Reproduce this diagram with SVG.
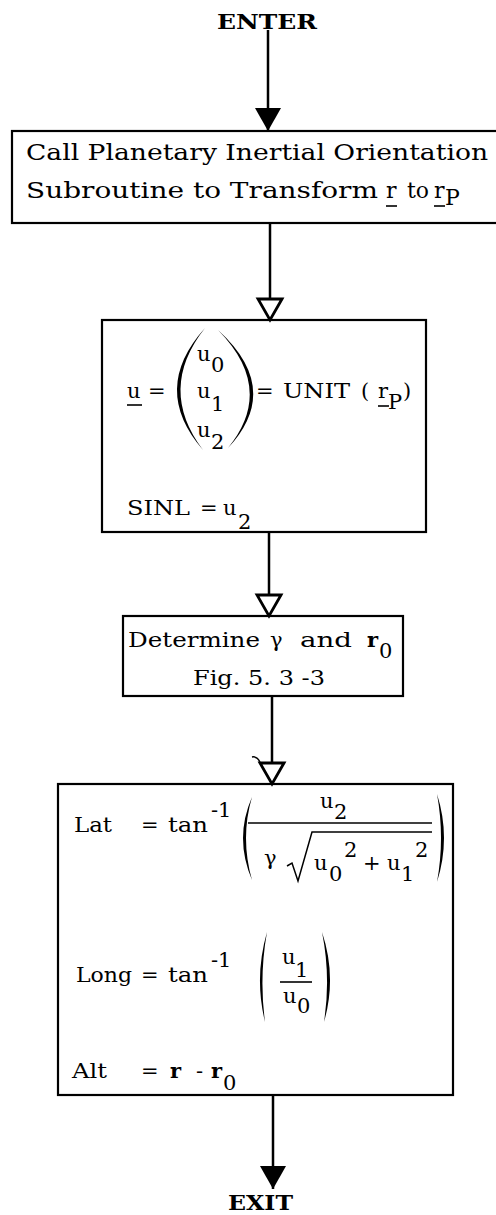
<svg xmlns="http://www.w3.org/2000/svg" width="496" height="1215" viewBox="0 0 496 1215">
<style>
text { font-family: "DejaVu Serif", "Liberation Serif", serif; fill: #000; }
.t { font-size: 21px; }
.b1 { font-size: 22px; }
.lbl { font-size: 20px; font-weight: bold; }
.bd { font-weight: bold; }
.box { fill: none; stroke: #000; stroke-width: 2.2; }
.ln { stroke: #000; stroke-width: 2.5; fill: none; }
.ul { stroke: #000; stroke-width: 1.6; }
.par { fill: #000; stroke: none; }
.thin { stroke: #000; stroke-width: 1.5; fill: none; }
</style>
<defs>
<marker id="solid" markerUnits="userSpaceOnUse" viewBox="0 -13 23 26" refX="23" refY="0" markerWidth="23" markerHeight="26" orient="auto">
<path d="M0,-13 L23,0 L0,13 Z" fill="#000"/>
</marker>
<marker id="hollow" markerUnits="userSpaceOnUse" viewBox="-2 -15 27 30" refX="22" refY="0" markerWidth="27" markerHeight="30" orient="auto">
<path d="M1,-12 L22,0 L1,12 Z" fill="#fff" stroke="#000" stroke-width="2.8" stroke-linejoin="miter"/>
</marker>
</defs>

<g id="enter">
<text class="lbl" x="217" y="29" textLength="100" lengthAdjust="spacingAndGlyphs">ENTER</text>
</g>

<g id="connectors">
<line class="ln" x1="268" y1="30" x2="268" y2="131" marker-end="url(#solid)"/>
<line class="ln" x1="270" y1="223" x2="270" y2="320" marker-end="url(#hollow)"/>
<line class="ln" x1="269" y1="532" x2="269" y2="616" marker-end="url(#hollow)"/>
<line class="ln" x1="272" y1="696" x2="272" y2="784" marker-end="url(#hollow)"/>
<path class="thin" d="M252,757 Q257,756 260,762"/>
<line class="ln" x1="273" y1="1095" x2="273" y2="1189" marker-end="url(#solid)"/>
</g>

<g id="box1">
<rect class="box" x="12" y="131" width="495" height="92"/>
<text class="b1" x="26" y="160" textLength="462" lengthAdjust="spacingAndGlyphs">Call Planetary Inertial Orientation</text>
<text class="b1" x="26" y="198" textLength="352" lengthAdjust="spacingAndGlyphs">Subroutine to Transform</text>
<text class="b1" x="386" y="198">r</text>
<line class="ul" x1="386" y1="206" x2="397" y2="206"/>
<text class="b1" x="407" y="198" textLength="22" lengthAdjust="spacingAndGlyphs">to</text>
<text class="b1" x="434" y="198">r</text>
<line class="ul" x1="434" y1="206" x2="445" y2="206"/>
<text class="b1" x="445" y="205">P</text>
</g>

<g id="box2">
<rect class="box" x="102" y="320" width="324" height="212"/>
<text class="t" x="127" y="398">u</text>
<line class="ul" x1="127" y1="405" x2="142" y2="405"/>
<text class="t" x="148" y="398">=</text>
<path class="par" d="M205,328 Q150,389 203,450 Q157,389 205,328 Z"/>
<path class="par" d="M218,330 Q283,389 228,448 Q276,389 218,330 Z"/>
<text class="t" x="197" y="361">u</text>
<text class="t" x="211" y="372">0</text>
<text class="t" x="197" y="398">u</text>
<text class="t" x="211" y="411">1</text>
<text class="t" x="197" y="437">u</text>
<text class="t" x="211" y="449">2</text>
<text class="t" x="256" y="398">=</text>
<text class="t" x="283" y="398" textLength="67" lengthAdjust="spacingAndGlyphs">UNIT</text>
<text class="t" x="361" y="398">(</text>
<text class="t" x="378" y="398">r</text>
<line class="ul" x1="378" y1="406" x2="389" y2="406"/>
<text class="t" x="388" y="409">P</text>
<text class="t" x="403" y="398">)</text>
<text class="t" x="127" y="515" textLength="63" lengthAdjust="spacingAndGlyphs">SINL</text>
<text class="t" x="200" y="515">=</text>
<text class="t" x="223" y="515">u</text>
<text class="t" x="238" y="529">2</text>
</g>

<g id="box3">
<rect class="box" x="123" y="616" width="280" height="80"/>
<text class="t" x="128" y="647" textLength="132" lengthAdjust="spacingAndGlyphs">Determine</text>
<text class="t" x="270" y="647">γ</text>
<text class="t" x="300" y="647" textLength="52" lengthAdjust="spacingAndGlyphs">and</text>
<text class="t bd" x="367" y="647">r</text>
<text class="t" x="379" y="658">0</text>
<text class="t" x="193" y="685" textLength="132" lengthAdjust="spacingAndGlyphs">Fig. 5. 3 -3</text>
</g>

<g id="box4">
<rect class="box" x="58" y="784" width="395" height="311"/>
<text class="t" x="74" y="832" textLength="38" lengthAdjust="spacingAndGlyphs">Lat</text>
<text class="t" x="141" y="832">=</text>
<text class="t" x="168" y="832" textLength="40" lengthAdjust="spacingAndGlyphs">tan</text>
<text class="t" x="211" y="817">-1</text>
<path class="par" d="M252,797 Q234,838 252,880 Q240,838 252,797 Z"/>
<text class="t" x="320" y="808">u</text>
<text class="t" x="334" y="819">2</text>
<line class="ul" x1="248" y1="823" x2="432" y2="823"/>
<text class="t" x="264" y="865">γ</text>
<path class="thin" d="M287,866 L292,863 L298,881 L312,832 L432,832"/>
<text class="t" x="314" y="870">u</text>
<text class="t" x="329" y="881">0</text>
<text class="t" x="344" y="857">2</text>
<text class="t" x="363" y="870">+</text>
<text class="t" x="387" y="870">u</text>
<text class="t" x="401" y="881">1</text>
<text class="t" x="415" y="857">2</text>
<path class="par" d="M437,794 Q451,838 437,882 Q445,838 437,794 Z"/>

<text class="t" x="76" y="982" textLength="56" lengthAdjust="spacingAndGlyphs">Long</text>
<text class="t" x="141" y="982">=</text>
<text class="t" x="168" y="982" textLength="40" lengthAdjust="spacingAndGlyphs">tan</text>
<text class="t" x="211" y="967">-1</text>
<path class="par" d="M267,932 Q254,977 265,1022 Q259,977 267,932 Z"/>
<text class="t" x="282" y="964">u</text>
<text class="t" x="295" y="977">1</text>
<line class="ul" x1="280" y1="982" x2="312" y2="982"/>
<text class="t" x="283" y="1003">u</text>
<text class="t" x="297" y="1013">0</text>
<path class="par" d="M322,932 Q337,977 324,1022 Q331,977 322,932 Z"/>

<text class="t" x="72" y="1078" textLength="35" lengthAdjust="spacingAndGlyphs">Alt</text>
<text class="t" x="141" y="1078">=</text>
<text class="t bd" x="170" y="1078">r</text>
<text class="t" x="196" y="1078">-</text>
<text class="t bd" x="211" y="1078">r</text>
<text class="t" x="223" y="1090">0</text>
</g>

<g id="exit">
<text class="lbl" x="228" y="1210" textLength="65" lengthAdjust="spacingAndGlyphs">EXIT</text>
</g>
</svg>
